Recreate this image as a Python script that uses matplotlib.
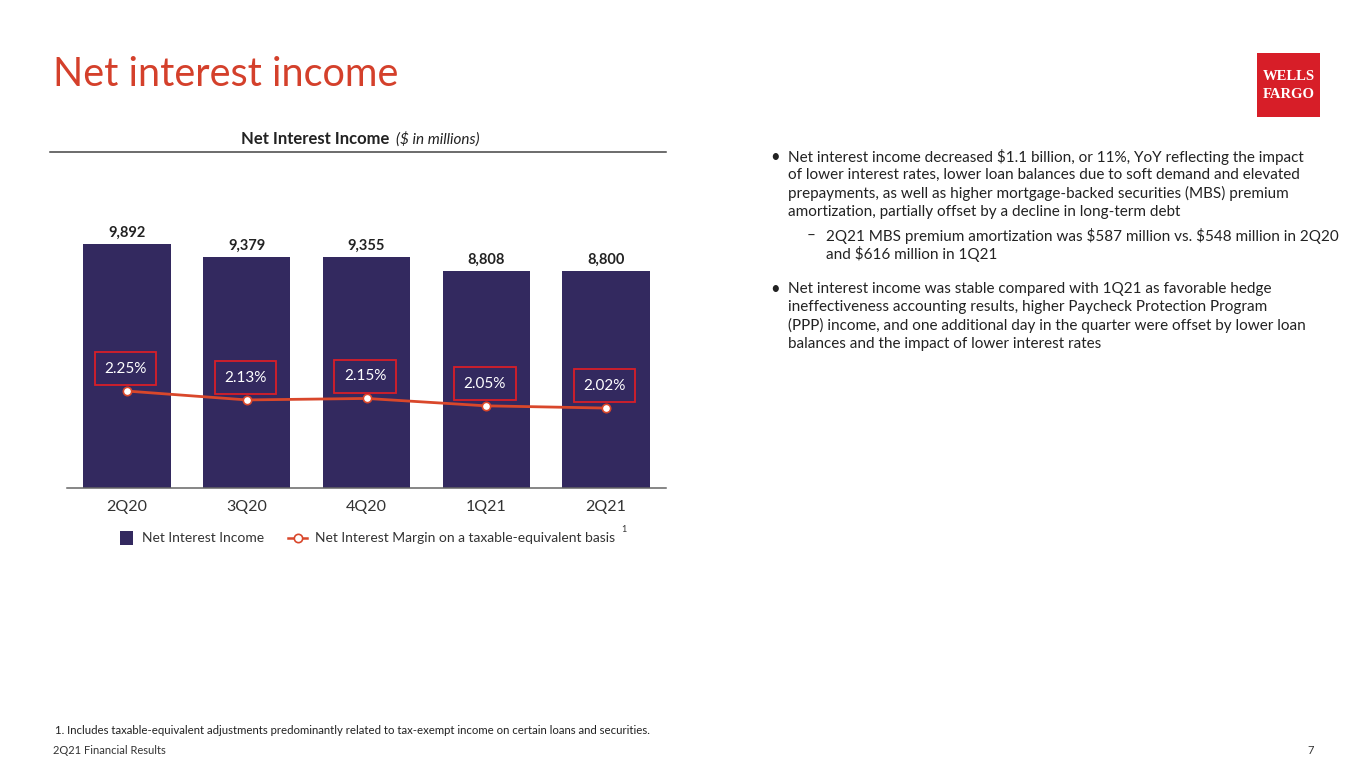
import matplotlib.pyplot as plt
from matplotlib.patches import Rectangle
from matplotlib.lines import Line2D

plt.rcParams['font.family'] = ['Lato', 'DejaVu Sans']

quarters = ["2Q20", "3Q20", "4Q20", "1Q21", "2Q21"]
nii = [9892, 9379, 9355, 8808, 8800]
nim = [2.25, 2.13, 2.15, 2.05, 2.02]

BAR = "#33295F"
RED = "#D71E28"
LINE = "#D9472B"
INK = "#222222"

W, H = 1365, 768
fig = plt.figure(figsize=(W / 100, H / 100), dpi=100)


def fx(x):
    return x / W


def fy(y):
    return 1 - y / H


# page title
fig.text(fx(53), fy(75), "Net interest income", color="#D4402B", fontsize=28.5,
         va="center", ha="left")

# logo
fig.patches.append(Rectangle((fx(1257), fy(117)), fx(63), 64 / H,
                             transform=fig.transFigure, facecolor=RED, edgecolor="none"))
fig.text(fx(1288.5), fy(76), "WELLS", color="white", fontsize=10.5, fontweight="bold",
         family="Liberation Serif", ha="center", va="center")
fig.text(fx(1288.5), fy(95), "FARGO", color="white", fontsize=10.5, fontweight="bold",
         family="Liberation Serif", ha="center", va="center")

# chart title + rule
fig.text(fx(393), fy(139), "Net Interest Income ", fontsize=12, fontweight="bold",
         ha="right", va="center", color=INK)
fig.text(fx(396), fy(139), "($ in millions)", fontsize=11, style="italic",
         ha="left", va="center", color=INK)
fig.add_artist(Line2D([fx(50), fx(666)], [fy(151.5), fy(151.5)], color="#444444", lw=1.1))

# bars
ax = fig.add_axes([fx(67), fy(488), (666 - 67) / W, (488 - 152) / H])
x = list(range(len(quarters)))
bars = ax.bar(x, nii, width=0.73, color=BAR)
ax.bar_label(bars, labels=[f"{v:,}" for v in nii], padding=3, fontsize=10.5,
             fontweight="bold", color=INK)
ax.set_xlim(-0.5, 4.5)
ax.set_ylim(0, 13620)
ax.set_xticks(x)
ax.set_xticklabels(quarters, fontsize=11.5, color="#333333")
ax.tick_params(axis="x", length=0, pad=9)
ax.set_yticks([])
for s in ["top", "left", "right"]:
    ax.spines[s].set_visible(False)
ax.spines["bottom"].set_color("#666666")
ax.spines["bottom"].set_linewidth(1.1)

# margin line
ax2 = ax.twinx()
ax2.set_ylim(0.94, 5.48)
ax2.plot(x, nim, color=LINE, lw=2, marker="o", markersize=6,
         markerfacecolor="white", markeredgecolor=LINE, markeredgewidth=1.2)
for i, v in enumerate(nim):
    ax2.annotate(f"{v:.2f}%", (i, v), xytext=(-1, 16), textcoords="offset points",
                 ha="center", va="center", color="white", fontsize=11,
                 bbox=dict(boxstyle="square,pad=0.62", facecolor="none",
                           edgecolor=RED, linewidth=1.3))
ax2.axis("off")

# legend
fig.patches.append(Rectangle((fx(120), fy(545)), 13 / W, 14 / H,
                             transform=fig.transFigure, facecolor=BAR, edgecolor="none"))
fig.text(fx(142), fy(538), "Net Interest Income", fontsize=10, va="center", color="#333333")
fig.add_artist(Line2D([fx(288), fx(307)], [fy(538), fy(538)], color=LINE, lw=1.8))
fig.add_artist(Line2D([fx(297.5)], [fy(538)], color=LINE, marker="o", markersize=6,
                      markerfacecolor="white", markeredgecolor=LINE, markeredgewidth=1.2))
fig.text(fx(315), fy(538), "Net Interest Margin on a taxable-equivalent basis", fontsize=10,
         va="center", color="#333333")
fig.text(fx(621), fy(530), "1", fontsize=6.5, va="center", color="#333333")

# commentary
b1 = ["Net interest income decreased \\$1.1 billion, or 11%, YoY reflecting the impact",
      "of lower interest rates, lower loan balances due to soft demand and elevated",
      "prepayments, as well as higher mortgage-backed securities (MBS) premium",
      "amortization, partially offset by a decline in long-term debt"]
b1a = ["2Q21 MBS premium amortization was \\$587 million vs. \\$548 million in 2Q20",
       "and \\$616 million in 1Q21"]
b2 = ["Net interest income was stable compared with 1Q21 as favorable hedge",
      "ineffectiveness accounting results, higher Paycheck Protection Program",
      "(PPP) income, and one additional day in the quarter were offset by lower loan",
      "balances and the impact of lower interest rates"]

fs = 11
step = 18.3
fig.text(fx(770), fy(157), "•", fontsize=12, va="center", color=INK)
for k, line in enumerate(b1):
    fig.text(fx(788), fy(157 + k * step), line, fontsize=fs, va="center", color=INK)
fig.text(fx(807), fy(236), "–", fontsize=fs, va="center", color=INK)
for k, line in enumerate(b1a):
    fig.text(fx(826), fy(236 + k * step), line, fontsize=fs, va="center", color=INK)
fig.text(fx(770), fy(289), "•", fontsize=12, va="center", color=INK)
for k, line in enumerate(b2):
    fig.text(fx(788), fy(289 + k * step), line, fontsize=fs, va="center", color=INK)

# footer
fig.text(fx(55), fy(731), "1. Includes taxable-equivalent adjustments predominantly related to tax-exempt income on certain loans and securities.",
         fontsize=8.2, va="center", color=INK)
fig.text(fx(53), fy(750), "2Q21 Financial Results", fontsize=8, va="center", color="#333333")
fig.text(fx(1314), fy(750), "7", fontsize=8, va="center", ha="right", color="#333333")

fig.savefig("out.png", dpi=100)
